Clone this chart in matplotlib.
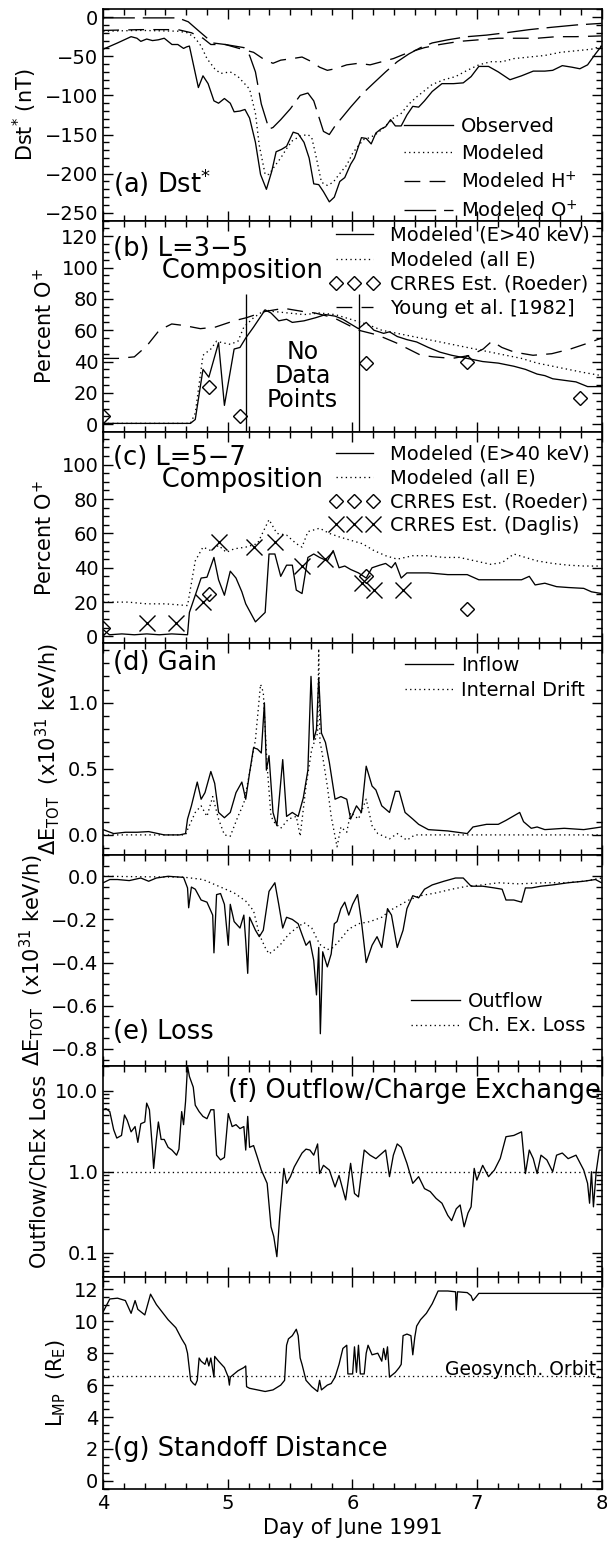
import matplotlib
matplotlib.use('Agg')
import matplotlib.pyplot as plt
from matplotlib import gridspec
from matplotlib.ticker import MultipleLocator, FixedLocator, FuncFormatter, LogLocator, NullFormatter
import numpy as np

# ---------------- (a) Dst* ----------------
obs_day = [4.0, 4.115, 4.224, 4.271, 4.302, 4.349, 4.396, 4.443, 4.490, 4.552, 4.599, 4.645, 4.670, 4.692,
           4.764, 4.801, 4.842, 4.889, 4.926, 4.973, 5.020, 5.051, 5.098, 5.138, 5.175, 5.222, 5.263, 5.310,
           5.353, 5.388, 5.431, 5.472, 5.525, 5.565, 5.612, 5.653, 5.690, 5.730, 5.768, 5.815, 5.855, 5.899,
           5.939, 5.986, 6.017, 6.073, 6.111, 6.151, 6.189, 6.229, 6.267, 6.307, 6.345, 6.392, 6.438, 6.485,
           6.532, 6.579, 6.641, 6.719, 6.812, 6.890, 6.953, 7.015, 7.093, 7.171, 7.265, 7.358, 7.452, 7.545,
           7.608, 7.685, 7.763, 7.826, 7.888, 7.951, 8.0]
obs_dst = [-41, -33, -25, -27, -31, -28, -30, -29, -27, -35, -35, -40, -38, -37, -90, -75, -85, -107, -110,
           -104, -110, -121, -120, -118, -129, -160, -201, -220, -197, -172, -169, -165, -147, -149, -160,
           -180, -213, -214, -223, -236, -230, -210, -205, -188, -180, -154, -155, -162, -148, -143, -140,
           -131, -139, -139, -125, -114, -115, -107, -95, -85, -85, -84, -76, -63, -63, -70, -80, -75, -69,
           -69, -68, -62, -64, -66, -61, -47, -37]

mod_day = [4.0, 4.3, 4.6, 4.677, 4.739, 4.786, 4.833, 4.895, 4.942, 5.020, 5.082, 5.129, 5.175, 5.222, 5.253,
           5.300, 5.331, 5.378, 5.425, 5.472, 5.518, 5.581, 5.643, 5.674, 5.706, 5.752, 5.799, 5.846, 5.893,
           5.955, 6.002, 6.049, 6.095, 6.142, 6.204, 6.267, 6.329, 6.392, 6.454, 6.516, 6.579, 6.641, 6.735,
           6.828, 6.922, 7.015, 7.109, 7.202, 7.296, 7.420, 7.545, 7.670, 7.795, 7.919, 8.0]
mod_dst = [-18, -17, -18, -20, -27, -37, -53, -66, -72, -70, -76, -84, -92, -123, -164, -201, -201, -190, -180,
           -168, -158, -152, -150, -154, -176, -211, -215, -211, -201, -189, -174, -164, -156, -154, -148,
           -139, -129, -123, -111, -102, -94, -86, -80, -76, -68, -61, -57, -57, -53, -51, -49, -45, -43, -41, -37]

hp_day = [4.0, 4.3, 4.6, 4.708, 4.801, 4.864, 4.98, 5.113, 5.207, 5.300, 5.363, 5.425, 5.518, 5.596, 5.674,
          5.737, 5.799, 5.861, 5.955, 6.049, 6.142, 6.236, 6.329, 6.454, 6.579, 6.703, 6.859, 7.015, 7.171,
          7.327, 7.483, 7.639, 7.795, 8.0]
hp_dst = [-17, -16, -16, -20, -27, -35, -35, -41, -45, -55, -59, -55, -53, -51, -57, -64, -68, -66, -61, -59,
          -61, -57, -53, -45, -39, -35, -31, -29, -27, -27, -27, -25, -25, -24]

op_day = [4.0, 4.3, 4.6, 4.683, 4.755, 4.879, 4.98, 5.13, 5.175, 5.222, 5.269, 5.331, 5.363, 5.425, 5.503,
          5.581, 5.643, 5.690, 5.730, 5.768, 5.815, 5.861, 5.924, 5.986, 6.080, 6.173, 6.267, 6.360, 6.454,
          6.547, 6.641, 6.766, 6.922, 7.077, 7.233, 7.420, 7.600, 7.800, 8.0]
op_dst = [-1, -1, -1, -6, -16, -33, -35, -39, -49, -70, -111, -143, -141, -131, -117, -100, -97, -107, -127,
          -146, -150, -139, -127, -115, -98, -84, -70, -57, -47, -39, -33, -29, -25, -23, -20, -16, -13, -10, -8]

# ---------------- (b) L=3-5 composition ----------------
b_day = [4.0, 4.3, 4.6, 4.70, 4.739, 4.801, 4.848, 4.926, 4.973, 5.051, 5.098, 5.144, 5.207, 5.300, 5.347,
         5.409, 5.472, 5.518, 5.612, 5.706, 5.784, 5.861, 5.924, 5.986, 6.049, 6.111, 6.173, 6.251, 6.298,
         6.360, 6.438, 6.516, 6.610, 6.703, 6.797, 6.922, 7.046, 7.171, 7.296, 7.389, 7.483, 7.545, 7.608,
         7.701, 7.795, 7.888, 8.0]
b_hot = [0.5, 0.5, 0.5, 0.5, 3, 35, 30, 52, 12, 48, 49, 55, 62, 73, 71, 66, 67, 65, 66, 68, 70, 69, 67, 64,
         61, 65, 60, 58, 59, 56, 54, 52.5, 49, 46, 44, 42, 40, 39, 37, 35, 32, 31, 29, 28, 27, 24, 24]

bd_day = [4.0, 4.3, 4.6, 4.70, 4.739, 4.801, 4.864, 4.910, 4.957, 5.020, 5.082, 5.129, 5.207, 5.300, 5.363,
          5.487, 5.612, 5.737, 5.861, 5.986, 6.111, 6.236, 6.360, 6.485, 6.610, 6.735, 6.859, 6.984, 7.109,
          7.233, 7.358, 7.483, 7.608, 7.732, 7.857, 8.0]
bd_all = [0.5, 0.5, 0.5, 0.5, 7, 44, 48, 53, 52, 51, 53, 62, 68, 73, 72, 71, 70, 71, 70, 67, 64, 60, 58, 56,
          54, 52, 50, 48, 46, 44, 42, 39, 37, 35, 33, 31]

young_day = [4.0, 4.12, 4.25, 4.35, 4.45, 4.55, 4.65, 4.78, 4.9, 5.05, 5.15, 5.3, 5.45, 5.6, 5.7, 5.85, 5.95,
             6.05, 6.2, 6.35, 6.45, 6.55, 6.65, 6.8, 6.95, 7.05, 7.12, 7.2, 7.3, 7.45, 7.6, 7.75, 7.9, 8.0]
young_pct = [42, 42, 43, 50, 60, 64, 63, 61, 62, 66, 68, 72, 74, 72, 71, 68, 64, 60, 57, 52, 48, 44, 43, 42,
             44, 48, 53, 49, 46, 44, 45, 48, 52, 55]

rb_day = [4.0, 4.848, 5.098, 6.111, 6.922, 7.826]
rb_pct = [5, 24, 5, 39, 40, 17]
no_data_days = [5.144, 6.055]
no_data_top = 83

# ---------------- (c) L=5-7 composition ----------------
c_day = [4.0, 4.05, 4.15, 4.25, 4.35, 4.45, 4.55, 4.677, 4.692, 4.739, 4.786, 4.833, 4.889, 4.926, 4.973,
         5.020, 5.066, 5.113, 5.144, 5.222, 5.300, 5.331, 5.378, 5.425, 5.472, 5.518, 5.550, 5.596, 5.643,
         5.690, 5.737, 5.799, 5.846, 5.893, 5.939, 5.986, 6.049, 6.111, 6.158, 6.220, 6.267, 6.314, 6.345,
         6.392, 6.438, 6.516, 6.610, 6.766, 6.922, 7.015, 7.109, 7.233, 7.358, 7.420, 7.467, 7.545, 7.639,
         7.732, 7.857, 7.919, 8.0]
c_hot = [4, 1, 1.5, 1, 1.5, 1, 1.5, 1, 14, 24, 34, 34.5, 46, 33, 24, 38, 34, 26, 19, 8.5, 14, 48, 48, 35,
         41.5, 41.5, 27, 25, 46, 48, 46, 44, 50, 40, 41, 39, 37, 34, 40, 41.5, 42.5, 40, 43, 34, 37, 37, 37,
         36, 36, 33, 33, 33, 33, 35, 30, 31, 29, 28.5, 28, 26, 25]

cd_day = [4.0, 4.1, 4.2, 4.35, 4.5, 4.677, 4.739, 4.801, 4.864, 4.926, 4.988, 5.051, 5.144, 5.238, 5.331,
          5.394, 5.472, 5.550, 5.596, 5.643, 5.737, 5.815, 5.893, 5.986, 6.080, 6.173, 6.267, 6.360, 6.485,
          6.610, 6.735, 6.859, 6.984, 7.109, 7.202, 7.296, 7.389, 7.483, 7.608, 7.732, 7.857, 8.0]
cd_all = [20, 20, 20, 19, 19, 18, 44, 52, 50, 53, 49, 51, 52, 54, 68, 60, 59, 54, 52, 61, 63, 60, 58, 56, 54,
          50, 47, 45, 47, 47, 46, 46, 44, 42, 43, 48, 46, 44, 42.5, 41.5, 41, 41]

rc_day = [4.0, 4.848, 6.111, 6.922]
rc_pct = [5, 25, 35, 16]
dg_day = [4.349, 4.583, 4.801, 4.926, 5.207, 5.378, 5.596, 5.784, 6.080, 6.173, 6.407]
dg_pct = [8, 8, 20, 55, 52, 55, 41, 45, 31, 27, 27]

# ---------------- (d) Gain ----------------
d_day = [4.0, 4.084, 4.178, 4.271, 4.365, 4.490, 4.614, 4.661, 4.677, 4.708, 4.755, 4.786, 4.817, 4.864,
         4.895, 4.926, 4.973, 5.020, 5.066, 5.113, 5.144, 5.175, 5.207, 5.238, 5.269, 5.294, 5.310, 5.331,
         5.363, 5.394, 5.441, 5.472, 5.518, 5.565, 5.606, 5.643, 5.668, 5.690, 5.712, 5.730, 5.752, 5.784,
         5.815, 5.861, 5.908, 5.955, 5.986, 6.033, 6.073, 6.111, 6.158, 6.189, 6.236, 6.298, 6.345, 6.376,
         6.423, 6.485, 6.532, 6.610, 6.766, 6.922, 6.968, 7.077, 7.171, 7.233, 7.343, 7.374, 7.436, 7.483,
         7.545, 7.701, 7.857, 8.0]
d_in = [0.04, 0.01, 0.02, 0.02, 0.025, 0.0, 0.0, 0.01, 0.12, 0.22, 0.40, 0.27, 0.32, 0.48, 0.39, 0.17, 0.13,
        0.17, 0.32, 0.40, 0.27, 0.47, 0.66, 0.65, 0.62, 1.0, 0.49, 0.60, 0.17, 0.07, 0.57, 0.14, 0.17, 0.14,
        0.28, 0.49, 1.2, 0.72, 0.80, 1.19, 0.77, 0.70, 0.55, 0.27, 0.29, 0.27, 0.12, 0.22, 0.17, 0.52, 0.37,
        0.34, 0.22, 0.17, 0.33, 0.33, 0.17, 0.12, 0.08, 0.04, 0.03, 0.01, 0.06, 0.08, 0.08, 0.11, 0.17, 0.10,
        0.05, 0.06, 0.04, 0.05, 0.04, 0.06]

dd_day = [4.0, 4.5, 4.661, 4.677, 4.739, 4.786, 4.833, 4.879, 4.926, 4.973, 5.020, 5.082, 5.129, 5.175,
          5.222, 5.263, 5.285, 5.316, 5.347, 5.378, 5.425, 5.487, 5.550, 5.581, 5.628, 5.674, 5.721, 5.730,
          5.740, 5.752, 5.799, 5.830, 5.877, 5.908, 5.955, 5.986, 6.049, 6.111, 6.158, 6.204, 6.298, 6.360,
          6.438, 6.501, 7.0, 8.0]
dd_drift = [0.0, 0.0, 0.0, 0.04, 0.17, 0.22, 0.14, 0.29, 0.12, 0.0, -0.01, 0.14, 0.24, 0.47, 0.72, 1.14,
            1.08, 0.52, 0.14, 0.09, 0.05, 0.12, 0.14, -0.01, 0.37, 0.65, 0.77, 1.41, 0.70, 0.65, 0.37, 0.14,
            -0.09, 0.06, 0.02, 0.17, 0.12, 0.27, 0.07, 0.01, -0.03, 0.01, -0.04, 0.0, 0.0, 0.0]

# ---------------- (e) Loss ----------------
e_day = [4.0, 4.053, 4.115, 4.209, 4.302, 4.365, 4.427, 4.521, 4.645, 4.677, 4.686, 4.708, 4.739, 4.786,
         4.833, 4.879, 4.889, 4.910, 4.942, 4.973, 5.004, 5.020, 5.051, 5.098, 5.129, 5.144, 5.160, 5.175,
         5.222, 5.253, 5.285, 5.331, 5.378, 5.409, 5.441, 5.472, 5.518, 5.565, 5.596, 5.628, 5.659, 5.690,
         5.712, 5.730, 5.743, 5.762, 5.799, 5.830, 5.855, 5.877, 5.908, 5.939, 5.971, 6.002, 6.042, 6.073,
         6.111, 6.158, 6.198, 6.236, 6.282, 6.314, 6.360, 6.407, 6.438, 6.485, 6.532, 6.579, 6.641, 6.735,
         6.828, 6.890, 6.953, 7.046, 7.140, 7.202, 7.233, 7.296, 7.358, 7.389, 7.436, 7.514, 7.608, 7.732,
         7.857, 7.951, 8.0]
e_out = [-0.03, -0.015, -0.015, -0.02, -0.008, -0.023, -0.008, 0.0, -0.005, -0.054, -0.146, -0.05, -0.06,
         -0.11, -0.12, -0.18, -0.355, -0.085, -0.08, -0.13, -0.32, -0.13, -0.21, -0.24, -0.18, -0.30, -0.45,
         -0.19, -0.25, -0.28, -0.25, -0.07, -0.03, -0.13, -0.24, -0.19, -0.20, -0.22, -0.27, -0.32, -0.30,
         -0.39, -0.55, -0.33, -0.73, -0.35, -0.42, -0.36, -0.22, -0.21, -0.15, -0.12, -0.18, -0.13, -0.085,
         -0.21, -0.40, -0.32, -0.28, -0.33, -0.15, -0.18, -0.33, -0.25, -0.15, -0.09, -0.10, -0.06, -0.04,
         -0.023, -0.008, -0.008, -0.046, -0.046, -0.054, -0.06, -0.11, -0.11, -0.12, -0.054, -0.054, -0.046,
         -0.04, -0.03, -0.023, -0.015, -0.03]

ex_day = [4.0, 4.3, 4.645, 4.801, 4.926, 5.051, 5.144, 5.207, 5.253, 5.300, 5.331, 5.378, 5.425, 5.487,
          5.550, 5.612, 5.674, 5.737, 5.799, 5.846, 5.908, 5.971, 6.049, 6.142, 6.236, 6.298, 6.360, 6.454,
          6.547, 6.672, 6.797, 6.922, 7.046, 7.171, 7.327, 7.545, 7.701, 7.857, 8.0]
ex_loss = [0.0, -0.002, -0.004, -0.015, -0.046, -0.077, -0.115, -0.16, -0.27, -0.33, -0.36, -0.34, -0.315,
           -0.27, -0.24, -0.215, -0.24, -0.315, -0.34, -0.33, -0.29, -0.245, -0.22, -0.21, -0.19, -0.16, -0.14,
           -0.11, -0.09, -0.077, -0.06, -0.046, -0.04, -0.03, -0.035, -0.03, -0.03, -0.023, -0.008]

# ---------------- (f) Outflow / charge exchange ----------------
f_day = [4.0, 4.022, 4.053, 4.084, 4.109, 4.147, 4.171, 4.193, 4.224, 4.256, 4.278, 4.302, 4.334, 4.349,
         4.371, 4.396, 4.405, 4.427, 4.443, 4.465, 4.490, 4.521, 4.552, 4.589, 4.608, 4.630, 4.645, 4.661,
         4.677, 4.692, 4.723, 4.739, 4.770, 4.801, 4.833, 4.864, 4.889, 4.910, 4.942, 4.973, 5.004, 5.035,
         5.066, 5.098, 5.129, 5.144, 5.160, 5.175, 5.207, 5.238, 5.269, 5.316, 5.347, 5.369, 5.394, 5.419,
         5.450, 5.472, 5.503, 5.534, 5.565, 5.596, 5.628, 5.659, 5.690, 5.721, 5.737, 5.768, 5.815, 5.861,
         5.893, 5.924, 5.946, 5.986, 6.017, 6.049, 6.095, 6.142, 6.189, 6.220, 6.267, 6.298, 6.329, 6.360,
         6.392, 6.438, 6.485, 6.532, 6.579, 6.625, 6.672, 6.719, 6.766, 6.797, 6.834, 6.865, 6.897, 6.928,
         6.953, 6.978, 6.999, 7.046, 7.093, 7.140, 7.187, 7.233, 7.296, 7.358, 7.389, 7.420, 7.452, 7.483,
         7.514, 7.561, 7.608, 7.639, 7.685, 7.732, 7.795, 7.857, 7.888, 7.904, 7.919, 7.935, 7.957, 7.982, 8.0]
f_ratio = [5.8, 6.0, 5.5, 3.3, 2.6, 2.8, 5.0, 4.3, 3.1, 3.6, 2.3, 3.9, 4.1, 7.0, 5.8, 1.85, 1.1, 2.5, 4.1,
           2.5, 2.5, 2.0, 1.85, 1.6, 1.9, 5.5, 3.8, 7.3, 20, 14.9, 11, 6.6, 5.5, 4.8, 4.5, 5.8, 5.8, 1.6, 1.4,
           1.5, 5.2, 3.6, 3.8, 3.4, 3.6, 1.85, 4.8, 2.0, 2.1, 1.5, 1.05, 0.72, 0.21, 0.16, 0.09, 0.31, 1.1,
           0.72, 0.87, 1.15, 1.4, 1.7, 1.9, 1.85, 1.6, 2.2, 0.95, 1.2, 1.05, 0.65, 0.9, 0.6, 0.45, 1.27, 0.54,
           0.49, 1.85, 1.6, 1.45, 1.6, 1.85, 0.87, 1.6, 2.2, 2.0, 1.27, 0.72, 0.87, 0.62, 0.57, 0.47, 0.41,
           0.29, 0.25, 0.35, 0.39, 0.21, 0.31, 0.37, 1.1, 0.79, 1.2, 0.87, 1.05, 1.46, 2.7, 2.8, 3.1, 0.95,
           1.85, 1.45, 0.95, 1.6, 1.4, 1.0, 1.6, 1.7, 1.45, 1.6, 1.05, 0.72, 0.41, 1.0, 0.37, 1.0, 1.85, 1.85]
f_ref = 1.0

# ---------------- (g) Standoff distance ----------------
g_day = [4.0, 4.053, 4.115, 4.178, 4.224, 4.256, 4.278, 4.334, 4.380, 4.427, 4.521, 4.583, 4.630, 4.661,
         4.677, 4.702, 4.723, 4.739, 4.755, 4.770, 4.786, 4.817, 4.833, 4.848, 4.864, 4.889, 4.895, 4.926,
         4.973, 5.004, 5.013, 5.020, 5.051, 5.082, 5.129, 5.144, 5.151, 5.175, 5.238, 5.300, 5.363, 5.425,
         5.456, 5.472, 5.487, 5.518, 5.550, 5.565, 5.581, 5.596, 5.628, 5.674, 5.721, 5.737, 5.752, 5.799,
         5.830, 5.861, 5.893, 5.924, 5.955, 5.964, 6.002, 6.017, 6.033, 6.049, 6.064, 6.095, 6.111, 6.126,
         6.158, 6.204, 6.236, 6.251, 6.267, 6.282, 6.298, 6.345, 6.376, 6.392, 6.407, 6.438, 6.470, 6.485,
         6.501, 6.516, 6.547, 6.594, 6.641, 6.688, 6.766, 6.828, 6.834, 6.844, 6.922, 6.953, 6.968, 6.990,
         7.015, 8.0]
g_lmp = [10.6, 11.4, 11.45, 11.3, 10.5, 11.3, 10.75, 10.4, 11.7, 11.05, 10.1, 9.6, 8.9, 8.5, 8.0, 6.3, 6.1,
         6.0, 6.3, 7.7, 7.5, 7.3, 7.7, 7.2, 7.7, 6.5, 7.8, 7.5, 7.1, 6.5, 6.0, 6.5, 6.7, 6.9, 7.1, 7.2, 5.9,
         5.8, 5.7, 5.6, 5.7, 6.0, 6.3, 8.5, 8.9, 9.1, 9.5, 9.1, 7.7, 7.3, 6.3, 5.9, 5.6, 6.3, 5.7, 6.0, 6.1,
         6.5, 7.3, 8.3, 8.5, 6.7, 6.7, 8.4, 6.8, 8.5, 6.7, 6.7, 8.0, 8.5, 7.9, 8.0, 7.5, 8.3, 7.6, 8.4, 6.5,
         6.8, 7.1, 7.3, 9.1, 9.2, 9.1, 7.9, 9.0, 9.7, 10.1, 10.5, 11.1, 11.9, 11.9, 11.85, 10.7, 11.85, 11.8,
         11.6, 11.3, 11.5, 11.75, 11.75]
geosynch = 6.6

DOT = (0, (1, 2.5))
HDASH = (0, (12, 7))
LDASH = (0, (24, 6))
LW = 0.95
PANEL_FS = 18.5

plt.rcParams['font.family'] = 'DejaVu Sans'
plt.rcParams['axes.linewidth'] = 1.2


def minus_fmt(decimals):
    def f(v, pos):
        if abs(v) < 1e-9:
            v = 0.0
        return f'{v:.{decimals}f}'.replace('-', '\u2212')
    return FuncFormatter(f)


fig = plt.figure(figsize=(6.07, 15.46), dpi=100)
gs = gridspec.GridSpec(7, 1, left=0.17, right=0.991, top=0.994, bottom=0.037, hspace=0.0)
axes = [fig.add_subplot(gs[i, 0]) for i in range(7)]

for ax in axes:
    ax.set_xlim(4, 8)
    ax.xaxis.set_major_locator(MultipleLocator(1))
    ax.xaxis.set_minor_locator(MultipleLocator(1 / 6))
    ax.tick_params(which='both', direction='in', top=True, right=True, labelsize=14)
    ax.tick_params(which='major', length=7, width=1)
    ax.tick_params(which='minor', length=4, width=1)
    if ax is not axes[-1]:
        ax.tick_params(labelbottom=False)

leg_kw = dict(frameon=False, fontsize=14, handlelength=2.5, borderpad=0.1)

# (a)
ax = axes[0]
ax.plot(obs_day, obs_dst, 'k-', lw=LW, label='Observed')
ax.plot(mod_day, mod_dst, color='k', ls=DOT, lw=LW, label='Modeled')
ax.plot(hp_day, hp_dst, color='k', ls=HDASH, lw=LW, label='Modeled H$^{+}$')
ax.plot(op_day, op_dst, color='k', ls=LDASH, lw=LW, label='Modeled O$^{+}$')
ax.set_ylim(-260, 10)
ax.yaxis.set_major_locator(MultipleLocator(50))
ax.yaxis.set_minor_locator(MultipleLocator(10))
ax.yaxis.set_major_formatter(minus_fmt(0))
ax.set_ylabel('Dst$^{*}$ (nT)', fontsize=15)
ax.text(4.08, -211, '(a) Dst$^{*}$', fontsize=PANEL_FS, va='center')
ax.legend(loc='lower right', bbox_to_anchor=(0.975, -0.058), handletextpad=0.4, labelspacing=0.4, **leg_kw)

# (b)
ax = axes[1]
ax.plot(b_day, b_hot, 'k-', lw=LW, label='Modeled (E>40 keV)')
ax.plot(bd_day, bd_all, color='k', ls=DOT, lw=LW, label='Modeled (all E)')
ax.plot(rb_day, rb_pct, ls='none', marker='D', ms=7.5, mfc='none', mec='k', mew=1,
        label='CRRES Est. (Roeder)')
ax.plot(young_day, young_pct, color='k', ls=HDASH, lw=LW, label='Young et al. [1982]')
ax.vlines(no_data_days, -5, no_data_top, colors='k', lw=LW)
ax.text(np.mean(no_data_days), 30.5, 'No\nData\nPoints', fontsize=17, ha='center', va='center',
        linespacing=1.0)
ax.set_ylim(-5, 130)
ax.yaxis.set_major_locator(MultipleLocator(20))
ax.yaxis.set_minor_locator(MultipleLocator(5))
ax.set_ylabel('Percent O$^{+}$', fontsize=15)
ax.text(4.08, 105, '(b) L=3\u22125\n      Composition', fontsize=PANEL_FS, va='center', linespacing=0.8)
ax.legend(loc='upper right', bbox_to_anchor=(1.0, 1.03), numpoints=3, handletextpad=0.6,
          labelspacing=0.28, **leg_kw)

# (c)
ax = axes[2]
ax.plot(c_day, c_hot, 'k-', lw=LW, label='Modeled (E>40 keV)')
ax.plot(cd_day, cd_all, color='k', ls=DOT, lw=LW, label='Modeled (all E)')
ax.plot(rc_day, rc_pct, ls='none', marker='D', ms=7.5, mfc='none', mec='k', mew=1,
        label='CRRES Est. (Roeder)')
ax.plot(dg_day, dg_pct, ls='none', marker='x', ms=11, mec='k', mew=1, label='CRRES Est. (Daglis)')
ax.set_ylim(-4, 119)
ax.yaxis.set_major_locator(MultipleLocator(20))
ax.yaxis.set_minor_locator(MultipleLocator(5))
ax.set_ylabel('Percent O$^{+}$', fontsize=15)
ax.text(4.08, 97.5, '(c) L=5\u22127\n      Composition', fontsize=PANEL_FS, va='center', linespacing=0.8)
ax.legend(loc='upper right', bbox_to_anchor=(1.0, 0.995), numpoints=3, handletextpad=0.6,
          labelspacing=0.25, **leg_kw)

# (d)
ax = axes[3]
ax.plot(d_day, d_in, 'k-', lw=LW, label='Inflow')
ax.plot(dd_day, dd_drift, color='k', ls=DOT, lw=LW, label='Internal Drift')
ax.set_ylim(-0.15, 1.45)
ax.yaxis.set_major_locator(MultipleLocator(0.5))
ax.yaxis.set_minor_locator(MultipleLocator(0.1))
ax.yaxis.set_major_formatter(minus_fmt(1))
ax.set_ylabel(r'$\Delta$E$_{\rm TOT}$  (x10$^{31}$ keV/h)', fontsize=15)
ax.text(4.08, 1.30, '(d) Gain', fontsize=PANEL_FS, va='center')
ax.legend(loc='upper right', bbox_to_anchor=(0.99, 0.995), handletextpad=0.4, labelspacing=0.3, **leg_kw)

# (e)
ax = axes[4]
ax.plot(e_day, e_out, 'k-', lw=LW, label='Outflow')
ax.plot(ex_day, ex_loss, color='k', ls=DOT, lw=LW, label='Ch. Ex. Loss')
ax.set_ylim(-0.88, 0.1)
ax.yaxis.set_major_locator(MultipleLocator(0.2))
ax.yaxis.set_minor_locator(MultipleLocator(0.05))
ax.yaxis.set_major_formatter(minus_fmt(1))
ax.set_ylabel(r'$\Delta$E$_{\rm TOT}$  (x10$^{31}$ keV/h)', fontsize=15)
ax.text(4.08, -0.72, '(e) Loss', fontsize=PANEL_FS, va='center')
ax.legend(loc='lower right', bbox_to_anchor=(0.99, 0.09), handletextpad=0.4, labelspacing=0.3, **leg_kw)

# (f)
ax = axes[5]
ax.plot(f_day, f_ratio, 'k-', lw=LW)
ax.axhline(f_ref, color='k', ls=DOT, lw=LW)
ax.set_yscale('log')
ax.set_ylim(0.05, 20)
ax.yaxis.set_major_locator(FixedLocator([0.1, 1.0, 10.0]))
ax.yaxis.set_minor_locator(LogLocator(base=10, subs=np.arange(2, 10)))
ax.yaxis.set_minor_formatter(NullFormatter())
ax.yaxis.set_major_formatter(minus_fmt(1))
ax.set_ylabel('Outflow/ChEx Loss', fontsize=15)
ax.text(7.995, 10, '(f) Outflow/Charge Exchange', fontsize=PANEL_FS, va='center', ha='right')

# (g)
ax = axes[6]
ax.plot(g_day, g_lmp, 'k-', lw=LW)
ax.axhline(geosynch, color='k', ls=DOT, lw=LW)
ax.set_ylim(-0.5, 12.75)
ax.yaxis.set_major_locator(MultipleLocator(2))
ax.yaxis.set_minor_locator(MultipleLocator(0.5))
ax.set_ylabel(r'L$_{\rm MP}$  (R$_{\rm E}$)', fontsize=15)
ax.text(4.08, 2.0, '(g) Standoff Distance', fontsize=PANEL_FS, va='center')
ax.text(7.96, 7.0, 'Geosynch. Orbit', fontsize=13.5, va='center', ha='right')
ax.set_xlabel('Day of June 1991', fontsize=15)

fig.savefig('out.png', dpi=100)
